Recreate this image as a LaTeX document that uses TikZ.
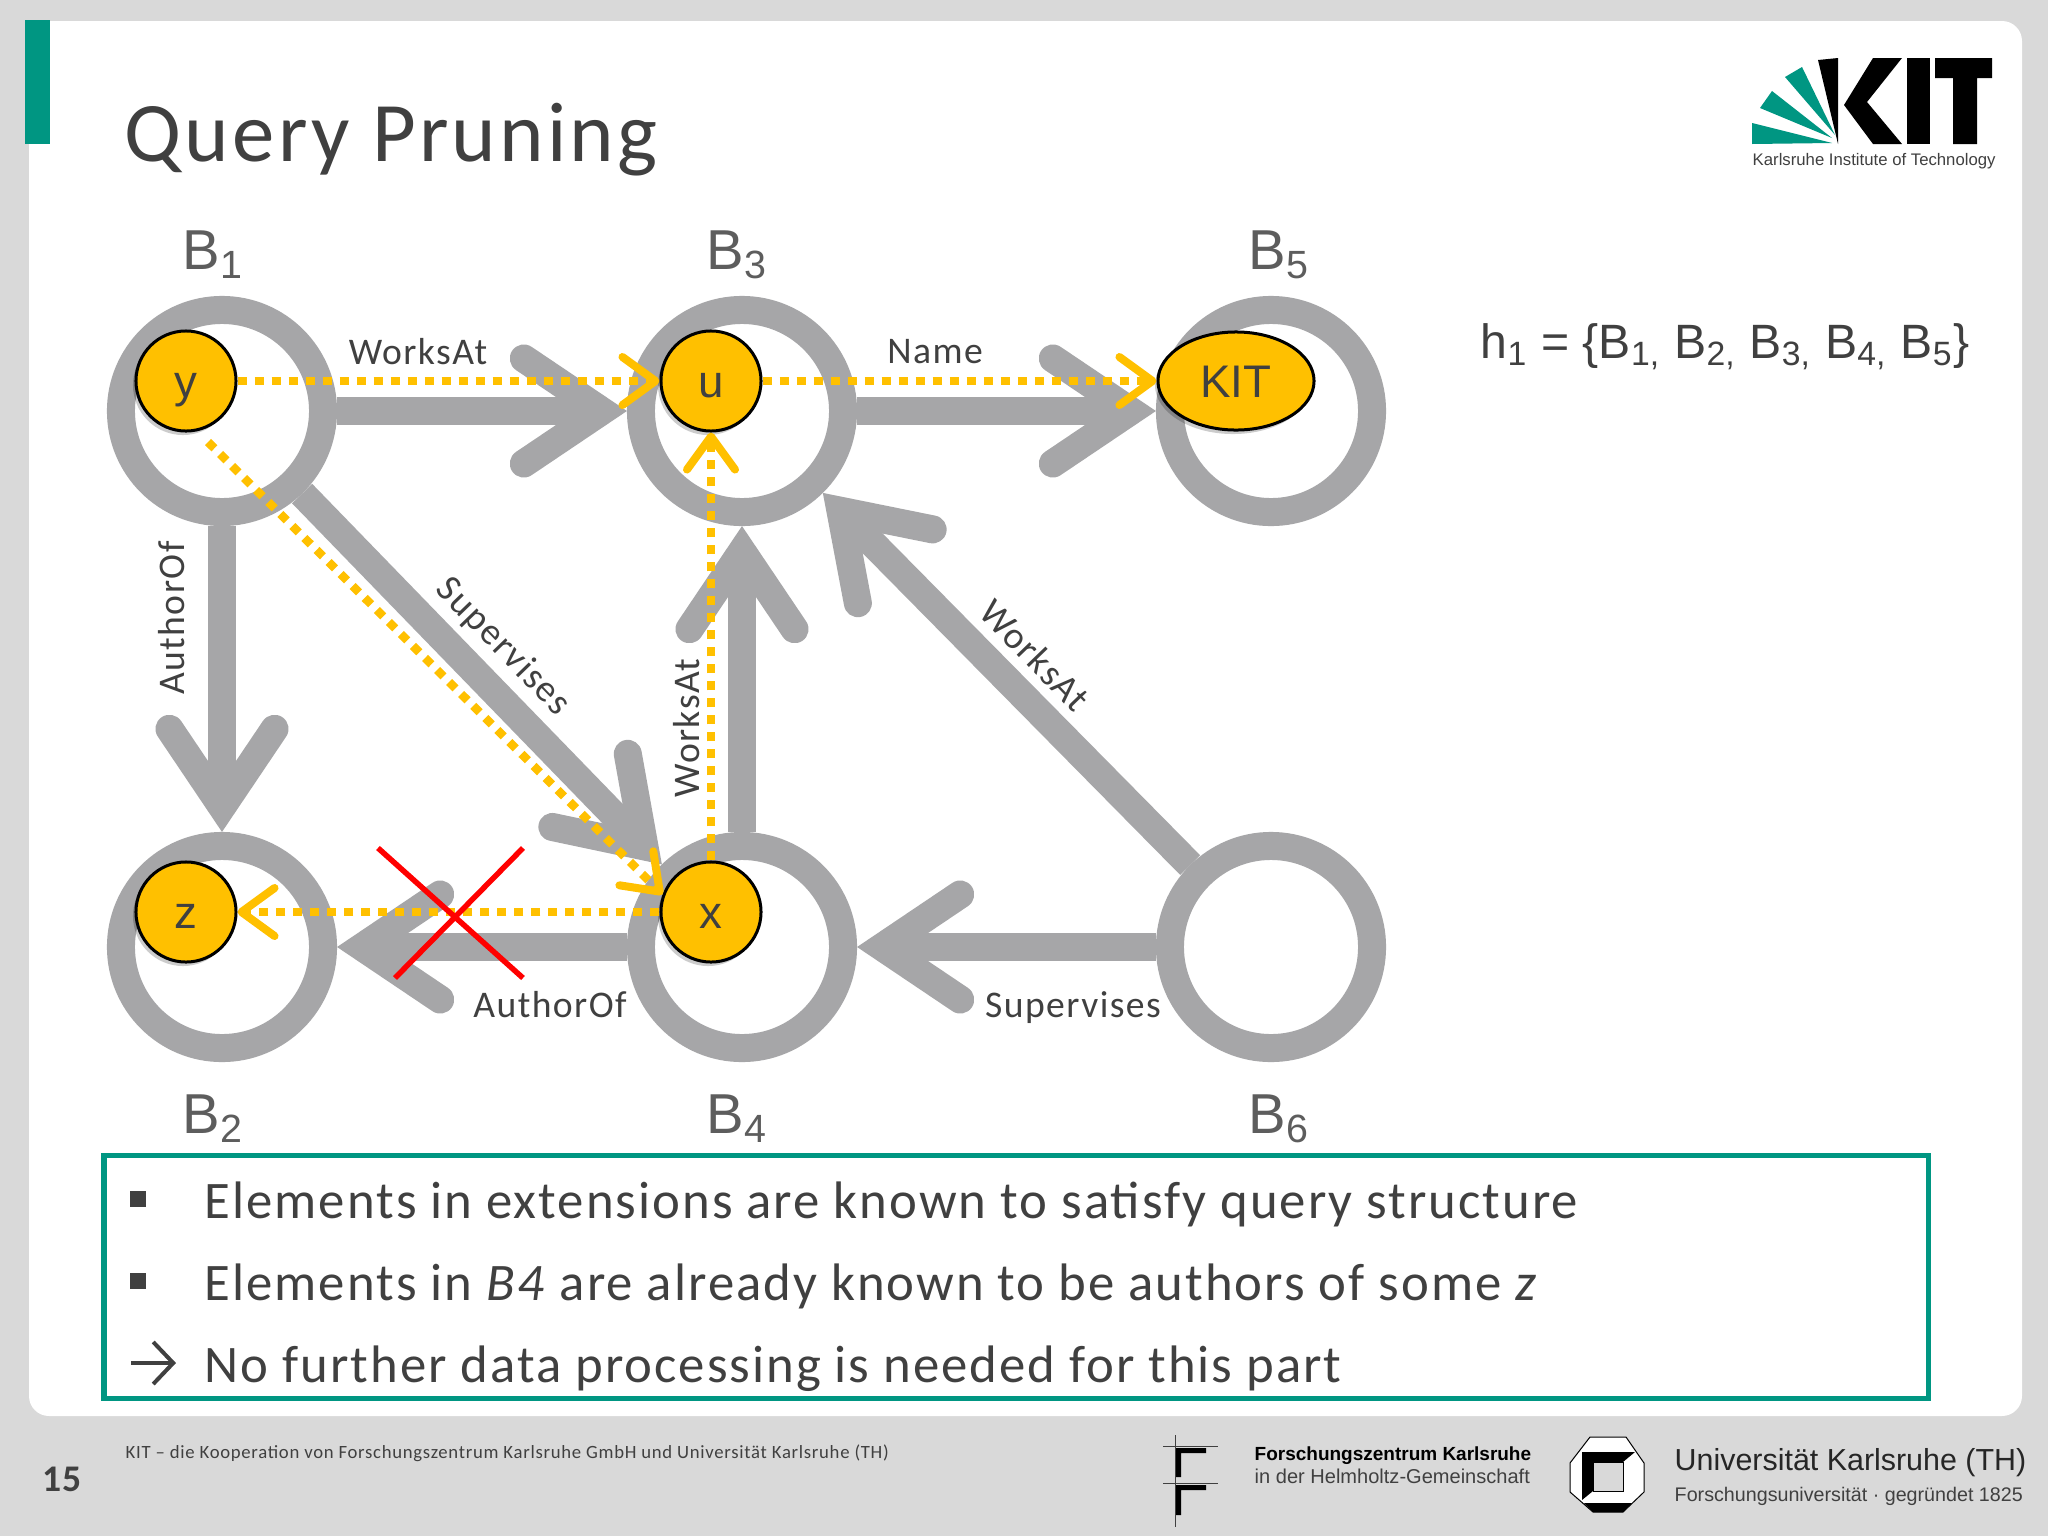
\documentclass[tikz,border=0pt]{standalone}
\usepackage{fontspec}
\usepackage{tikz}
\usetikzlibrary{arrows.meta,shapes.geometric,shadows}
\setmainfont{Carlito}[LetterSpace=3.8]
\newfontfamily\arialfont{Liberation Sans}
\definecolor{ringgray}{HTML}{A6A6A8}
\definecolor{varyellow}{HTML}{FFC000}
\definecolor{kitgreen}{HTML}{009682}
\definecolor{slidegray}{HTML}{D9D9D9}
\definecolor{inkgray}{HTML}{404040}

\begin{document}
\begin{tikzpicture}[x=0.01cm,y=-0.01cm]
        % Define styles
        \tikzset{
            block/.style={circle, draw=ringgray, line width=0.28cm, minimum size=2.02cm, inner sep=0pt},
            var/.style={circle, draw=black, line width=0.03cm, fill=varyellow, minimum size=1cm, inner sep=0pt,
                text=inkgray, text height=0.33cm, text depth=0pt, font=\arialfont\fontsize{13}{15}\selectfont,
                drop shadow={shadow xshift=-0.03cm, shadow yshift=-0.04cm, opacity=.2, fill=black}},
            flow/.style={draw=ringgray, line width=0.28cm, -{Straight Barb[length=0.78cm, width=1.05cm, line width=0pt 1, line cap=round, line join=miter]}},
            match/.style={draw=varyellow, line width=0.085cm, dash pattern=on 0.09cm off 0.08cm, -{Straight Barb[length=0.33cm, width=0.48cm, line width=0.08cm, round]}},
            blocklabel/.style={anchor=base west, inner sep=0pt, text=inkgray!85, font=\arialfont\fontsize{16}{18}\selectfont},
            edgelabel/.style={text=inkgray, font=\fontsize{10.7}{12}\selectfont},
            bullettext/.style={anchor=base west, inner sep=0pt, text=inkgray, font=\fontsize{15}{17}\selectfont},
            bulletmark/.style={rectangle, fill=inkgray, minimum size=0.16cm, inner sep=0pt},
            cross/.style={draw=red, line width=0.055cm}
        }
        \useasboundingbox (0,0) rectangle (2048,1536);

        % Slide
        \fill[slidegray] (0,0) rectangle (2048,1536);
        \fill[white, rounded corners=0.2cm] (29,21) rectangle (2022,1416);
        \fill[kitgreen] (25,20) rectangle (50,144);
        \node[anchor=base west, inner sep=0pt, text=inkgray, font=\fontsize{24.1}{28}\selectfont] (title) at (124,161) {Query Pruning};

        % Nodes
        \node[block] (block_node_1) at (222,411) {};
        \node[block] (block_node_3) at (742,411) {};
        \node[block] (block_node_5) at (1271,411) {};
        \node[block] (block_node_2) at (222,947) {};
        \node[block] (block_node_4) at (742,947) {};
        \node[block] (block_node_6) at (1271,947) {};

        \node[blocklabel] (block_label_1) at (182,269) {B\textsubscript{1}};
        \node[blocklabel] (block_label_3) at (706,269) {B\textsubscript{3}};
        \node[blocklabel] (block_label_5) at (1248,269) {B\textsubscript{5}};
        \node[blocklabel] (block_label_2) at (182,1133) {B\textsubscript{2}};
        \node[blocklabel] (block_label_4) at (706,1133) {B\textsubscript{4}};
        \node[blocklabel] (block_label_6) at (1248,1133) {B\textsubscript{6}};

        % Arrows
        \draw[flow] (block_node_1) -- (block_node_3);
        \draw[flow] (block_node_3) -- (block_node_5);
        \draw[flow] (block_node_1) -- (block_node_2);
        \draw[flow] (block_node_1) -- (block_node_4);
        \draw[flow] (block_node_4) -- (block_node_3);
        \draw[flow] (block_node_4) -- (block_node_2);
        \draw[flow] (block_node_6) -- (block_node_4);
        \draw[flow] (block_node_6) -- (block_node_3);

        \node[edgelabel] (label_worksat_1) at (418,352) {WorksAt};
        \node[edgelabel] (label_name) at (935,352) {Name};
        \node[edgelabel, rotate=90] (label_authorof_1) at (172,618) {AuthorOf};
        \node[edgelabel, rotate=-46] (label_supervises_1) at (503,647) {Supervises};
        \node[edgelabel, rotate=90] (label_worksat_2) at (687,728) {WorksAt};
        \node[edgelabel, rotate=-46] (label_worksat_3) at (1035,655) {WorksAt};
        \node[edgelabel] (label_authorof_2) at (550,1005) {AuthorOf};
        \node[edgelabel] (label_supervises_2) at (1073,1008) {Supervises};

        % Variables
        \node[var] (var_node_y) at (186,381) {y};
        \node[var] (var_node_u) at (711,381) {u};
        \node[var] (var_node_x) at (711,912) {x};
        \node[var] (var_node_z) at (186,912) {z};
        \node[var, ellipse, minimum width=1.56cm, minimum height=0.98cm] (var_node_kit) at (1236,381) {KIT};
        \coordinate (match_start) at (208,442);

        \draw[match] (var_node_y) -- (var_node_u);
        \draw[match] (var_node_u) -- (var_node_kit);
        \draw[match] (match_start) -- (var_node_x.160);
        \draw[match] (var_node_x) -- (var_node_u);
        \draw[match] (var_node_x) -- (var_node_z);

        % Pruned edge
        \coordinate (cross_a) at (378,848);
        \coordinate (cross_b) at (523,978);
        \coordinate (cross_c) at (523,848);
        \coordinate (cross_d) at (395,978);
        \draw[cross] (cross_a) -- (cross_b);
        \draw[cross] (cross_c) -- (cross_d);

        % Homomorphism
        \node[anchor=base west, inner sep=0pt, text=inkgray, font=\arialfont\fontsize{13.7}{17}\selectfont] (hom_label) at (1480,358)
            {h\textsubscript{1} = \{B\textsubscript{1,} B\textsubscript{2,} B\textsubscript{3,} B\textsubscript{4,} B\textsubscript{5}\}};

        % Text box
        \draw[kitgreen, line width=0.05cm] (104,1155) rectangle (1928,1398);
        \node[bulletmark] (bullet_1) at (138,1199) {};
        \node[bulletmark] (bullet_2) at (138,1281) {};
        \coordinate (bullet_3a) at (131,1363);
        \coordinate (bullet_3b) at (176,1363);
        \draw[inkgray, line width=0.04cm, -{Straight Barb[length=0.2cm, width=0.42cm, line width=0.04cm]}] (bullet_3a) -- (bullet_3b);
        \node[bullettext] (text_1) at (204,1218) {Elements in extensions are known to satisfy query structure};
        \node[bullettext] (text_2) at (204,1300) {Elements in \textit{B4} are already known to be authors of some \textit{z}};
        \node[bullettext] (text_3) at (204,1382) {No further data processing is needed for this part};

        % KIT logo
        \fill[black] (1818,60) -- (1838,58) -- (1838,144) -- cycle;
        \fill[black] (1873,58) -- (1902,58) -- (1867,102) -- (1902,144) -- (1873,144) -- (1844,105) -- cycle;
        \fill[black] (1907,58) rectangle (1930,144);
        \fill[black] (1935,58) -- (1992,58) -- (1992,78) -- (1977,78) -- (1977,144) -- (1953,144) -- (1953,78) -- (1935,78) -- cycle;
        \fill[kitgreen] (1752,123) -- (1752,144) -- (1832,143) -- cycle;
        \fill[kitgreen] (1760,108) -- (1772,91) -- (1832,138) -- cycle;
        \fill[kitgreen] (1785,77) -- (1802,67) -- (1835,135) -- cycle;
        \node[anchor=base west, inner sep=0pt, text=inkgray, font=\arialfont\fontsize{4.76}{5}\selectfont] (kit_name) at (1752,165) {Karlsruhe Institute of Technology};

        % Footer
        \node[anchor=base, text=inkgray, font=\bfseries\fontsize{10.7}{12}\selectfont] (page_number) at (62,1491) {15};
        \node[anchor=base west, inner sep=0pt, text=inkgray, font=\fontsize{5.32}{6}\selectfont] (footer_text) at (125,1458)
            {KIT -- die Kooperation von Forschungszentrum Karlsruhe GmbH und Universität Karlsruhe (TH)};

        % Forschungszentrum logo
        \draw[inkgray, line width=0.008cm] (1175,1435) -- (1175,1527);
        \draw[inkgray, line width=0.008cm] (1163,1446) -- (1218,1446);
        \draw[inkgray, line width=0.008cm] (1163,1483) -- (1218,1483);
        \fill[black] (1176,1448) -- (1206,1448) -- (1206,1453) -- (1181,1453) -- (1181,1477) -- (1176,1477) -- cycle;
        \fill[black] (1176,1485) -- (1206,1485) -- (1206,1490) -- (1181,1490) -- (1181,1515) -- (1176,1515) -- cycle;
        \node[anchor=base west, inner sep=0pt, font=\arialfont\bfseries\fontsize{5.4}{6}\selectfont] (fzk_name) at (1254,1460) {Forschungszentrum Karlsruhe};
        \node[anchor=base west, inner sep=0pt, text=inkgray, font=\arialfont\fontsize{5.7}{6}\selectfont] (fzk_sub) at (1254,1483) {in der Helmholtz-Gemeinschaft};

        % Universitaet logo
        \filldraw[fill=white, draw=black, line width=0.01cm] (1590,1437) -- (1626,1437) -- (1644,1463) -- (1644,1492) -- (1623,1512) -- (1593,1512) -- (1570,1492) -- (1570,1463) -- cycle;
        \fill[black] (1582,1452) -- (1635,1452) -- (1623,1462) -- (1593,1462) -- (1593,1491) -- (1582,1500) -- cycle;
        \fill[black] (1584,1503) -- (1632,1503) -- (1623,1512) -- (1593,1512) -- cycle;
        \filldraw[fill=slidegray, draw=black, line width=0.01cm] (1593,1462) rectangle (1623,1491);
        \node[anchor=base west, inner sep=0pt, text=black!85, font=\arialfont\fontsize{8.65}{11}\selectfont] (uni_name) at (1674,1470) {Universität Karlsruhe (TH)};
        \node[anchor=base west, inner sep=0pt, text=inkgray, font=\arialfont\fontsize{5.6}{6}\selectfont] (uni_sub) at (1674,1501) {Forschungsuniversität \textperiodcentered\ gegründet 1825};
    \end{tikzpicture}
\end{document}
